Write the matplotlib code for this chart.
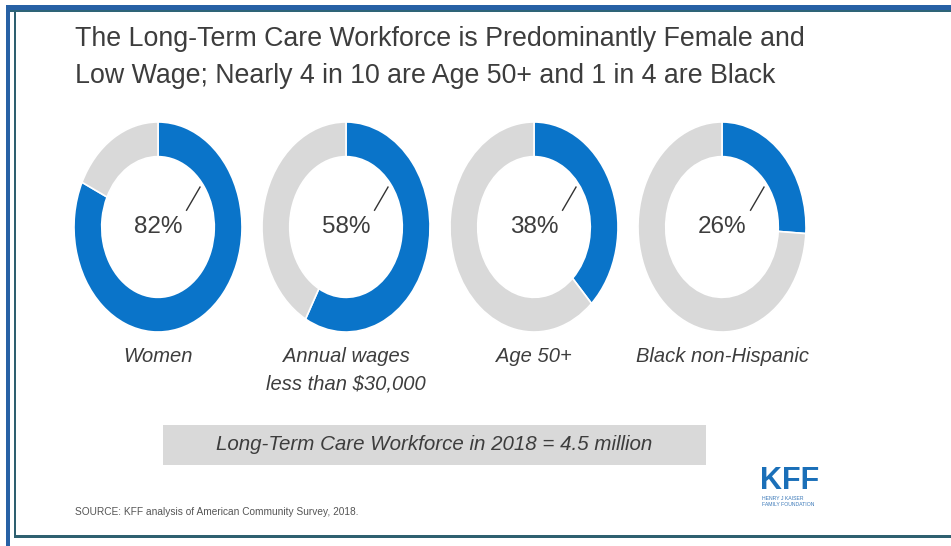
import matplotlib.pyplot as plt
from matplotlib.patches import Rectangle

plt.rcParams['font.family'] = ['Liberation Sans', 'DejaVu Sans']

title_lines = ['The Long-Term Care Workforce is Predominantly Female and',
               'Low Wage; Nearly 4 in 10 are Age 50+ and 1 in 4 are Black']
shares = [82, 58, 38, 26]
groups = ['Women', 'Annual wages\nless than $30,000', 'Age 50+', 'Black non-Hispanic']
total_note = 'Long-Term Care Workforce in 2018 = 4.5 million'
source = 'SOURCE: KFF analysis of American Community Survey, 2018.'

BLUE = '#0a74c9'
GRAY = '#d9d9d9'
TEXT = '#3d3d3d'

W, H = 951, 546
fig = plt.figure(figsize=(W / 100, H / 100), dpi=100)
ax = fig.add_axes([0, 0, 1, 1])
ax.set_xlim(0, W)
ax.set_ylim(H, 0)
ax.axis('off')

# frame: blue outer edge plus thin teal inner edge
ax.add_patch(Rectangle((6, 5), W - 6, 5, color='#2761a5', lw=0))
ax.add_patch(Rectangle((6, 10), W - 6, 2, color='#2e6477', lw=0))
ax.add_patch(Rectangle((6, 5), 4, H - 5, color='#2761a5', lw=0))
ax.add_patch(Rectangle((14, 12), 2, 526, color='#2e6070', lw=0))
ax.add_patch(Rectangle((14, 535), W - 14, 3, color='#2e6070', lw=0))

ax.text(75, 39, title_lines[0], fontsize=19.3, color=TEXT, va='center', ha='left')
ax.text(75, 76, title_lines[1], fontsize=19.3, color=TEXT, va='center', ha='left')

# donuts, slightly taller than wide
cx0, step, cy = 158, 188, 227
rx, ry = 84, 105
for i, (v, g) in enumerate(zip(shares, groups)):
    cx = cx0 + i * step
    dax = fig.add_axes([(cx - rx) / W, 1 - (cy + ry) / H, 2 * rx / W, 2 * ry / H])
    dax.pie([v, 100 - v], colors=[BLUE, GRAY], startangle=90, counterclock=False,
            wedgeprops=dict(width=0.33, edgecolor='white', linewidth=1.2))
    dax.set_aspect('auto')
    dax.set_xlim(-1, 1)
    dax.set_ylim(-1, 1)
    dax.axis('off')
    dax.plot([0.5, 0.34], [0.38, 0.16], color='#333333', lw=1)
    dax.text(0.0, 0.0, f'{v}%', fontsize=17.5, color=TEXT, ha='center', va='center')
    ax.text(cx, 347, g, fontsize=14.5, style='italic', color=TEXT,
            ha='center', va='top', linespacing=1.6)

# summary bar
ax.add_patch(Rectangle((163, 425), 543, 40, color=GRAY, lw=0))
ax.text(434, 445, total_note, fontsize=14.8, style='italic', color=TEXT,
        ha='center', va='center')

ax.text(75, 512, source, fontsize=7.3, color='#555555', va='center', ha='left')

# logo
ax.text(790, 481, 'KFF', fontsize=22, fontweight='bold', color='#1a6fb8',
        ha='center', va='center')
ax.text(762, 501, 'HENRY J KAISER\nFAMILY FOUNDATION', fontsize=3.7,
        color='#3a78b8', ha='left', va='center', linespacing=1.25)

fig.savefig('out.png', dpi=100)
